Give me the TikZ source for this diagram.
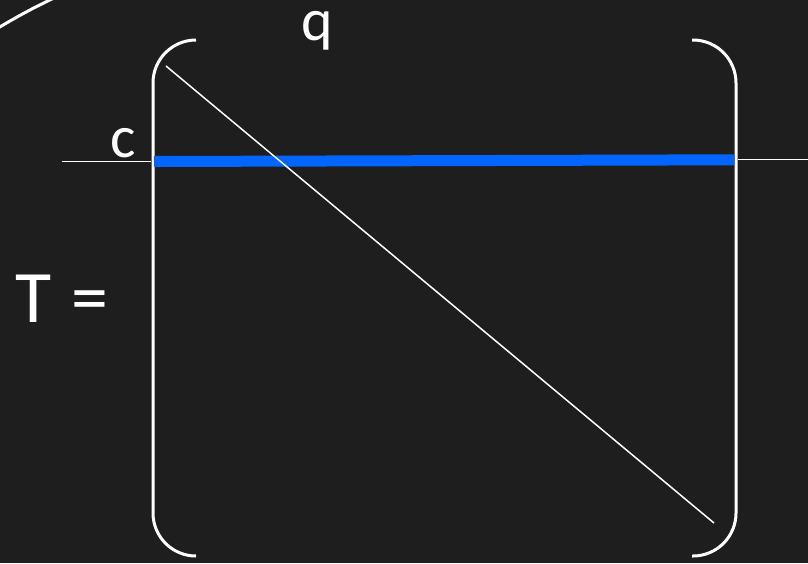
\documentclass[tikz,border=0pt]{standalone}
\usepackage{fontspec}
\setmainfont{Carlito}
\definecolor{bgdark}{RGB}{30,30,30}
\definecolor{rowblue}{RGB}{0,102,255}
\begin{document}
\begin{tikzpicture}[x=1pt, y=-1pt,
    bracket/.style={draw=white, line width=3pt, rounded corners=43pt},
    thinline/.style={draw=white, line width=1.5pt},
    label/.style={text=white, inner sep=0pt, anchor=base}]
    % Hintergrund
    \fill[bgdark] (0,0) rectangle (808,563);
    \useasboundingbox (0,0) rectangle (808,563);

    % Bogen oben links
    \draw[white, line width=3pt] (-2,28) .. controls (20,15) and (35,7) .. (54,-2);

    % Klammern der Matrix
    \coordinate (LT) at (153,40);
    \coordinate (LB) at (153,556);
    \coordinate (RT) at (736,40);
    \coordinate (RB) at (736,556);
    \draw[bracket] (196,40) -- (LT) -- (LB) -- (196,556);
    \draw[bracket] (692,40) -- (RT) -- (RB) -- (692,556);

    % Zeile c
    \coordinate (rowL) at (62,161.7);
    \coordinate (rowA) at (154,161.5);
    \coordinate (rowB) at (734,159.8);
    \coordinate (rowR) at (808,159.7);
    \draw[thinline] (rowL) -- (151,161.7);
    \draw[thinline] (738,159.7) -- (rowR);
    \draw[rowblue, line width=11pt] (rowA) -- (rowB);

    % Diagonale
    \coordinate (diagA) at (166,66);
    \coordinate (diagB) at (714,523);
    \draw[thinline] (diagA) -- (diagB);

    % Beschriftungen
    \node[label, font=\fontsize{60}{60}\selectfont] (qlab) at (317,40) {q};
    \node[label, font=\fontsize{60}{60}\selectfont] (clab) at (123,157) {c};
    \node[label, anchor=base west, font=\fontsize{74}{74}\selectfont] (Tlab) at (15,322) {T\hspace{4pt} =};
\end{tikzpicture}
\end{document}
